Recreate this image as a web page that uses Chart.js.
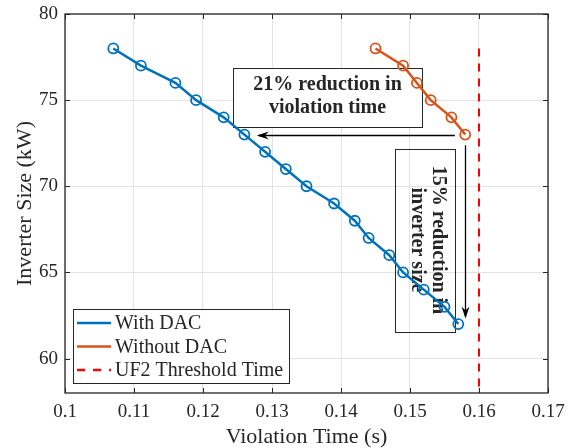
<!DOCTYPE html>
<html><head><meta charset="utf-8">
<script src="https://cdn.jsdelivr.net/npm/chart.js@4/dist/chart.umd.min.js"></script>
<style>html,body{margin:0;padding:0;background:#fff}#wrap{width:568px;height:448px;position:relative}canvas{display:block}</style>
</head><body><div id="wrap"><canvas id="c" width="568" height="448"></canvas></div>
<script>
// ---- data ----
const withDacTime = [0.107,0.111,0.116,0.119,0.123,0.126,0.129,0.132,0.135,0.139,0.142,0.144,0.147,0.149,0.152,0.155,0.157];
const withDacSize = [78,77,76,75,74,73,72,71,70,69,68,67,66,65,64,63,62];
const withoutDacTime = [0.145,0.149,0.151,0.153,0.156,0.158];
const withoutDacSize = [78,77,76,75,74,73];
const thresholdTime = [0.16,0.16];
const thresholdSize = [78,58];
const xTickValues = [0.1,0.11,0.12,0.13,0.14,0.15,0.16,0.17];
const yTickValues = [60,65,70,75,80];
const seriesLabels = ['With DAC','Without DAC','UF2 Threshold Time'];
const note1Lines = ['21% reduction in','violation time'];
const note2Lines = ['15% reduction in','inverter size'];

const BLUE = '#0072BD', ORANGE = '#D95319', RED = '#FF0000', INK = '#262626';
const SERIF = '"Liberation Serif","Times New Roman",serif';

const pts = (xs, ys) => xs.map((x, i) => ({x, y: ys[i]}));
const noPad = s => { s.paddingTop = 0; s.paddingBottom = 0; s.paddingLeft = 0; s.paddingRight = 0; };

const decor = {
  id: 'decor',
  beforeDatasetsDraw(chart) {
    const {ctx, scales: {x, y}} = chart;
    ctx.save();
    // box 1 (white filled)
    const bx1 = x.getPixelForValue(0.12435), bx2 = x.getPixelForValue(0.15174);
    const by1 = y.getPixelForValue(76.89), by2 = y.getPixelForValue(73.46);
    ctx.fillStyle = '#fff';
    ctx.fillRect(bx1, by1, bx2 - bx1, by2 - by1);
    ctx.strokeStyle = INK; ctx.lineWidth = 1;
    ctx.strokeRect(Math.round(bx1)+0.5, Math.round(by1)+0.5, Math.round(bx2-bx1), Math.round(by2-by1));
    ctx.fillStyle = INK;
    ctx.font = 'bold 20px ' + SERIF;
    ctx.textAlign = 'center'; ctx.textBaseline = 'middle';
    const cx = (bx1 + bx2) / 2, cy = (by1 + by2) / 2;
    ctx.fillText(note1Lines[0], cx, cy - 12);
    ctx.fillText(note1Lines[1], cx, cy + 11);
    // box 2 (transparent)
    const cx1 = x.getPixelForValue(0.1478), cx2 = x.getPixelForValue(0.1565);
    const cy1 = y.getPixelForValue(72.15), cy2 = y.getPixelForValue(61.5);
    ctx.strokeRect(Math.round(cx1)+0.5, Math.round(cy1)+0.5, Math.round(cx2-cx1), Math.round(cy2-cy1));
    ctx.save();
    ctx.translate((cx1 + cx2) / 2 + 2, (cy1 + cy2) / 2 - 1);
    ctx.rotate(Math.PI / 2);
    ctx.fillText(note2Lines[0], 0, -11);
    ctx.fillText(note2Lines[1], 0, 10);
    ctx.restore();
    ctx.restore();
  },
  afterDatasetsDraw(chart) {
    const {ctx, scales: {x, y}, chartArea: ca} = chart;
    ctx.save();
    ctx.strokeStyle = '#000'; ctx.fillStyle = '#000'; ctx.lineWidth = 1.3;
    // horizontal arrow
    const hy = Math.round(y.getPixelForValue(73)) + 0.5;
    const hx1 = x.getPixelForValue(0.1565), hx2 = x.getPixelForValue(0.1278);
    ctx.beginPath(); ctx.moveTo(hx1, hy); ctx.lineTo(hx2 + 2, hy); ctx.stroke();
    ctx.beginPath(); ctx.moveTo(hx2, hy); ctx.lineTo(hx2 + 12, hy - 4); ctx.lineTo(hx2 + 8, hy); ctx.lineTo(hx2 + 12, hy + 4); ctx.closePath(); ctx.fill();
    // vertical arrow
    const vx = Math.round(x.getPixelForValue(0.158)) + 0.5;
    const vy1 = y.getPixelForValue(72.38), vy2 = y.getPixelForValue(62.33);
    ctx.beginPath(); ctx.moveTo(vx, vy1); ctx.lineTo(vx, vy2 - 2); ctx.stroke();
    ctx.beginPath(); ctx.moveTo(vx, vy2); ctx.lineTo(vx - 4, vy2 - 12); ctx.lineTo(vx, vy2 - 8); ctx.lineTo(vx + 4, vy2 - 12); ctx.closePath(); ctx.fill();

    // axes box
    ctx.strokeStyle = INK; ctx.lineWidth = 1.3;
    ctx.strokeRect(ca.left, ca.top, ca.right - ca.left, ca.bottom - ca.top);
    // inner tick marks on all sides
    ctx.lineWidth = 1;
    const tl = 5;
    ctx.beginPath();
    xTickValues.forEach(v => {
      const px = Math.round(x.getPixelForValue(v)) + 0.5;
      ctx.moveTo(px, ca.bottom); ctx.lineTo(px, ca.bottom - tl);
      ctx.moveTo(px, ca.top); ctx.lineTo(px, ca.top + tl);
    });
    yTickValues.forEach(v => {
      const py = Math.round(y.getPixelForValue(v)) + 0.5;
      ctx.moveTo(ca.left, py); ctx.lineTo(ca.left + tl, py);
      ctx.moveTo(ca.right, py); ctx.lineTo(ca.right - tl, py);
    });
    ctx.stroke();

    // legend
    const lx = ca.left + 8, ly = 309, lw = 216, lh = 74;
    ctx.fillStyle = '#fff';
    ctx.fillRect(lx, ly, lw, lh);
    ctx.strokeStyle = INK; ctx.lineWidth = 1;
    ctx.strokeRect(lx + 0.5, ly + 0.5, lw, lh);
    ctx.font = '20px ' + SERIF;
    ctx.textAlign = 'left'; ctx.textBaseline = 'middle';
    const colors = [BLUE, ORANGE, RED];
    chart.data.datasets.forEach((ds, i) => {
      const ry = ly + 14 + i * 23.5;
      ctx.strokeStyle = colors[i]; ctx.lineWidth = 2.5;
      ctx.setLineDash(i === 2 ? [8, 8] : []);
      ctx.beginPath(); ctx.moveTo(lx + 4, ry); ctx.lineTo(lx + 38, ry); ctx.stroke();
      ctx.setLineDash([]);
      ctx.fillStyle = INK;
      ctx.fillText(ds.label, lx + 42, ry + 1);
    });
    ctx.restore();
  }
};

new Chart(document.getElementById('c'), {
  type: 'line',
  data: {
    datasets: [
      { label: seriesLabels[0], data: pts(withDacTime, withDacSize), borderColor: BLUE, backgroundColor: 'transparent',
        borderWidth: 2.5, pointRadius: 5, pointBorderWidth: 1.8, pointBackgroundColor: 'transparent', pointBorderColor: BLUE, tension: 0 },
      { label: seriesLabels[1], data: pts(withoutDacTime, withoutDacSize), borderColor: ORANGE, backgroundColor: 'transparent',
        borderWidth: 2.5, pointRadius: 5, pointBorderWidth: 1.8, pointBackgroundColor: 'transparent', pointBorderColor: ORANGE, tension: 0 },
      { label: seriesLabels[2], data: pts(thresholdTime, thresholdSize), borderColor: RED, borderDash: [8, 7],
        borderWidth: 2, pointRadius: 0, tension: 0 }
    ]
  },
  options: {
    responsive: false, animation: false, devicePixelRatio: 1,
    layout: { padding: { top: 14, right: 20, left: 0, bottom: 0 } },
    plugins: { legend: { display: false }, tooltip: { enabled: false } },
    scales: {
      x: {
        type: 'linear', min: 0.1, max: 0.17,
        afterBuildTicks: s => { s.ticks = xTickValues.map(v => ({value: v})); },
        afterFit: s => { s.height = 55; noPad(s); },
        grid: { color: '#e3e3e3', lineWidth: 1, drawTicks: false },
        border: { display: false },
        ticks: { color: INK, font: { family: SERIF, size: 19 }, padding: 8, maxRotation: 0,
          callback: v => String(+v.toFixed(2)) },
        title: { display: true, text: 'Violation Time (s)', color: INK, font: { family: SERIF, size: 22, lineHeight: 1 }, padding: { top: 0, bottom: 0 } }
      },
      y: {
        type: 'linear', min: 58, max: 80,
        afterBuildTicks: s => { s.ticks = yTickValues.map(v => ({value: v})); },
        afterFit: s => { s.width = 65; noPad(s); },
        grid: { color: '#e3e3e3', lineWidth: 1, drawTicks: false },
        border: { display: false },
        ticks: { color: INK, font: { family: SERIF, size: 19 }, padding: 7, callback: v => String(v) },
        title: { display: true, text: 'Inverter Size (kW)', color: INK, font: { family: SERIF, size: 22, lineHeight: 1 }, padding: { top: 14, bottom: 0 } }
      }
    }
  },
  plugins: [decor]
});
</script></body></html>
